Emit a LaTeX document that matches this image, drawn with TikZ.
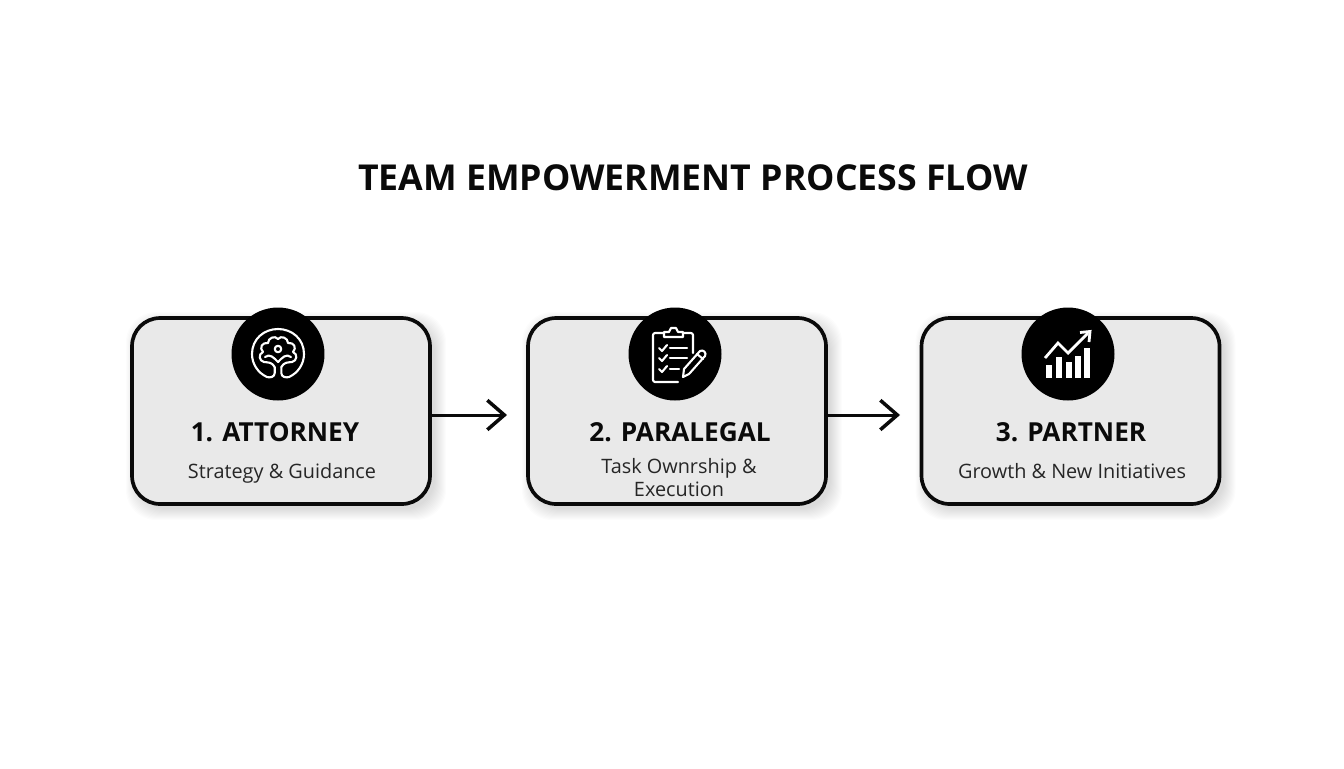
\documentclass[tikz,border=0pt]{standalone}
\usepackage{fontspec}
\setmainfont{Open Sans}
\usetikzlibrary{arrows.meta}
\definecolor{boxgray}{HTML}{E9E9E9}
\definecolor{inkblack}{HTML}{0A0A0A}
\tikzset{
	stepbox/.style={draw=inkblack,fill=boxgray,line width=2.1pt,rounded corners=0.56cm,minimum width=5.96cm,minimum height=3.72cm,outer sep=0pt},
	badge/.style={fill=black,circle,minimum size=1.86cm,inner sep=0pt},
	titlelabel/.style={font=\fontsize{20.3}{25}\selectfont\bfseries,text=inkblack},
	steplabel/.style={font=\fontsize{14.9}{17}\selectfont\bfseries,text=inkblack,anchor=base},
	sublabel/.style={font=\fontsize{11.3}{13}\selectfont,text=black!85,anchor=base},
	flowarrow/.style={-{Straight Barb[length=3.4mm,width=5.9mm,line width=2pt]},inkblack,line width=1.7pt},
	iconline/.style={white,line width=1.2pt,line cap=round,line join=round}
}
\begin{document}
\begin{tikzpicture}[x=0.02cm,y=-0.02cm]
	\useasboundingbox [fill=white] (0,0) rectangle (1344,768);
	\node (title) at (693,178) [titlelabel] {TEAM EMPOWERMENT PROCESS FLOW};

	\foreach \n/\xc in {1/281,2/677,3/1070.5}
	{
		\foreach \s in {1,...,12}
			\fill [black,opacity=0.012,rounded corners=0.6cm] (\xc-150+7-\s,317+7-\s) rectangle (\xc+150+3+\s,505+3+\s);
		\node (box\n) at (\xc,411) [stepbox] {};
	}

	\coordinate (tip1) at (507,415);
	\coordinate (tip2) at (900,415);
	\draw [flowarrow] (box1.east |- tip1) -- (tip1);
	\draw [flowarrow] (box2.east |- tip2) -- (tip2);

	\node (badge1) at (278,354) [badge] {};
	\node (badge2) at (675,354) [badge] {};
	\node (badge3) at (1068,354) [badge] {};

	\node (step1) at (275,441) [steplabel] {1. ATTORNEY};
	\node (step2) at (680,441) [steplabel] {2. PARALEGAL};
	\node (step3) at (1071,441) [steplabel] {3. PARTNER};
	\node (sub1) at (282,478) [sublabel] {Strategy \& Guidance};
	\node (sub2) at (679,473) [sublabel] {Task Ownrship \&};
	\node (sub2b) at (679,496) [sublabel] {Execution};
	\node (sub3) at (1072,478) [sublabel] {Growth \& New Initiatives};

	% brain
	\begin{scope}[iconline]
		\draw (274.7,367) -- (274.7,373) .. controls (274.7,377) and (270,378) .. (267,377) .. controls (258,373) and (252,364) .. (252,354) .. controls (252,339) and (264,329) .. (278,329) .. controls (292,329) and (304,339) .. (304,354) .. controls (304,364) and (298,373) .. (289,377) .. controls (286,378) and (281.3,377) .. (281.3,373) -- (281.3,367);
		\draw (274.7,367) .. controls (272,362) and (268,362.5) .. (264,362) .. controls (259,361) and (258,354) .. (263,352) .. controls (259,348) and (262,342) .. (268,343) .. controls (268,338) and (275,335) .. (278,339) .. controls (281,335) and (288,338) .. (288,343) .. controls (294,342) and (297,348) .. (293,352) .. controls (298,354) and (297,361) .. (292,362) .. controls (288,362.5) and (284,362) .. (281.3,367);
		\draw (265,357) .. controls (270,353) and (274,358) .. (278,362) .. controls (282,358) and (286,353) .. (291,357);
		\draw (278,349) circle [radius=0.065cm];
	\end{scope}

	% clipboard and pencil
	\begin{scope}[iconline]
		\draw (664,333) -- (655,333) .. controls (654,333) and (653,334) .. (653,335) -- (653,380) .. controls (653,381) and (654,382) .. (655,382) -- (678,382);
		\draw (683,333) -- (691,333) .. controls (692,333) and (693,334) .. (693,335) -- (693,353);
		\draw (664,337) -- (664,332) -- (669,332) -- (671,328) -- (676,328) -- (678,332) -- (683,332) -- (683,337) -- cycle;
		\foreach \y in {348,358,369}
			\draw (659,\y) -- (662,\y+3) -- (667,\y-3);
		\draw (670,348) -- (687,348);
		\draw (670,358) -- (687,358);
		\draw (670,369) -- (679,369);
		\draw (683,377) -- (684,369) -- (700,351) .. controls (703,349) and (707,353) .. (705,356) -- (689,374) -- cycle;
		\draw (697,354) -- (703,359);
	\end{scope}

	% chart
	\foreach \xa/\ytop in {1046/365,1056/357,1066/362,1075/356,1084/348}
		\fill [white] (\xa,\ytop) rectangle (\xa+5.6,378);
	\draw [white,line width=1.6pt,line join=miter] (1045,358) -- (1058,343) -- (1068,353) -- (1088,333);
	\draw [white,line width=1.6pt,line join=miter] (1080,332.5) -- (1090,331.5) -- (1089,342);
\end{tikzpicture}
\end{document}
